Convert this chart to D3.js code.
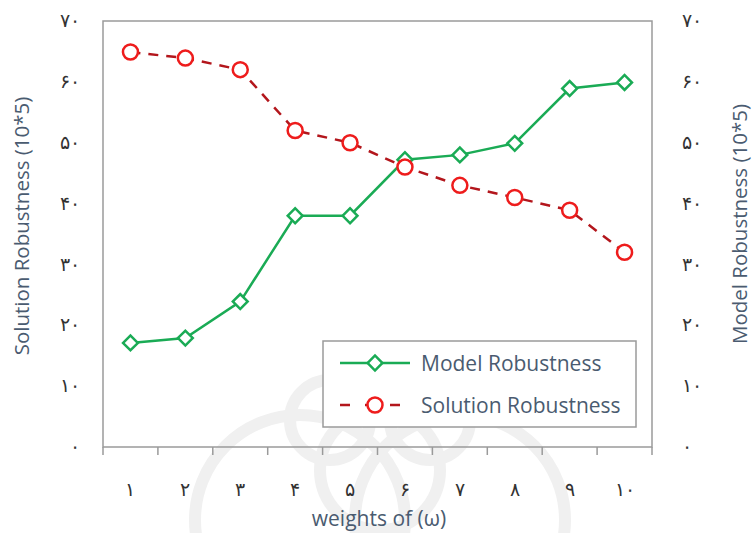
<!DOCTYPE html>
<html>
<head>
<meta charset="utf-8">
<script src="https://cdn.jsdelivr.net/npm/d3@7"></script>
<style>
  html, body { margin: 0; padding: 0; background: #ffffff; }
  svg { display: block; }
</style>
</head>
<body>
<svg id="chart" width="753" height="533"></svg>
<script>
// ---- data ----
const categories = [1, 2, 3, 4, 5, 6, 7, 8, 9, 10];
const categoryLabels = ["۱", "۲", "۳", "۴", "۵", "۶", "۷", "۸", "۹", "۱۰"];
const modelRobustness = [17.1, 17.9, 23.9, 38.0, 38.0, 47.2, 48.0, 49.9, 58.9, 59.9];
const solutionRobustness = [64.9, 63.9, 62.0, 52.0, 50.0, 46.0, 43.0, 41.0, 38.9, 32.0];
const yTicks = [0, 10, 20, 30, 40, 50, 60, 70];
const yTickLabels = ["۰", "۱۰", "۲۰", "۳۰", "۴۰", "۵۰", "۶۰", "۷۰"];
const seriesNames = ["Model Robustness", "Solution Robustness"];
const xTitle = "weights of (ω)";
const yLeftTitle = "Solution Robustness (10*5)";
const yRightTitle = "Model Robustness (10*5)";

// ---- layout ----
const svg = d3.select("#chart");
const L = 103, R = 652, T = 21, B = 447;
const green = "#1aab55", redMarker = "#ee1c1c", redLine = "#b3161c";
const titleColor = "#4a5b70";
const digitFont = "DejaVu Sans";
const textFont = "Open Sans";

// watermark (faint decorative background)
const wm = svg.append("g").attr("fill", "none").attr("stroke", "#f0f0f0").attr("stroke-width", 12);
[[300, 520, 105], [460, 520, 105], [380, 470, 60], [330, 420, 40], [430, 420, 40]].forEach(c => {
  wm.append("circle").attr("cx", c[0]).attr("cy", c[1]).attr("r", c[2]);
});

const x = d3.scaleBand().domain(categories).range([L, R]).paddingInner(0).paddingOuter(0);
const y = d3.scaleLinear().domain([0, 70]).range([B, T]);
const cx = d => x(d) + x.bandwidth() / 2;

// plot border
svg.append("rect").attr("x", L).attr("y", T).attr("width", R - L).attr("height", B - T)
  .attr("fill", "none").attr("stroke", "#9a9a9a").attr("stroke-width", 1.5);

// x-axis labels
const xAxis = d3.axisBottom(x).tickSize(0).tickFormat((d, i) => categoryLabels[i]);
const xg = svg.append("g").attr("transform", `translate(0,${B})`).call(xAxis);
xg.select(".domain").remove();
xg.selectAll("text").attr("dy", 0).attr("y", 49)
  .attr("font-family", digitFont).attr("font-weight", 300).attr("font-size", 19).attr("fill", "#333");
// tick marks at band boundaries
const boundaries = categories.map(c => x(c)).concat([R]);
svg.append("g").selectAll("line").data(boundaries).join("line")
  .attr("x1", d => d).attr("x2", d => d).attr("y1", B).attr("y2", B + 8)
  .attr("stroke", "#9a9a9a").attr("stroke-width", 1.5);

// y axes labels
const yAxisL = d3.axisLeft(y).tickValues(yTicks).tickSize(0).tickFormat((d, i) => yTickLabels[i]);
const ylg = svg.append("g").attr("transform", `translate(${L - 20},0)`).call(yAxisL);
ylg.select(".domain").remove();
ylg.selectAll("text").attr("dy", "0.3em").attr("font-family", digitFont).attr("font-weight", 300)
  .attr("font-size", 19).attr("fill", "#333");

const yAxisR = d3.axisRight(y).tickValues(yTicks).tickSize(0).tickFormat((d, i) => yTickLabels[i]);
const yrg = svg.append("g").attr("transform", `translate(${R + 27},0)`).call(yAxisR);
yrg.select(".domain").remove();
yrg.selectAll("text").attr("dy", "0.3em").attr("font-family", digitFont).attr("font-weight", 300)
  .attr("font-size", 19).attr("fill", "#333");

// axis titles
svg.append("text").attr("transform", `translate(29,226) rotate(-90)`)
  .attr("text-anchor", "middle").attr("font-family", textFont).attr("font-size", 20.5)
  .attr("fill", titleColor).text(yLeftTitle);
svg.append("text").attr("transform", `translate(747,224) rotate(-90)`)
  .attr("text-anchor", "middle").attr("font-family", textFont).attr("font-size", 20.5)
  .attr("fill", titleColor).text(yRightTitle);
svg.append("text").attr("x", 379).attr("y", 526)
  .attr("text-anchor", "middle").attr("font-family", textFont).attr("font-size", 21)
  .attr("fill", titleColor).text(xTitle);

// lines
const line = d3.line().x((d, i) => cx(categories[i])).y(d => y(d));
svg.append("path").datum(solutionRobustness).attr("d", line)
  .attr("fill", "none").attr("stroke", redLine).attr("stroke-width", 2.5)
  .attr("stroke-dasharray", "10,8");
svg.append("path").datum(modelRobustness).attr("d", line)
  .attr("fill", "none").attr("stroke", green).attr("stroke-width", 2.5);

// markers
const diamond = d3.symbol().type(d3.symbolSquare).size(110);
svg.append("g").selectAll("path").data(modelRobustness).join("path")
  .attr("d", diamond())
  .attr("transform", (d, i) => `translate(${cx(categories[i])},${y(d)}) rotate(45)`)
  .attr("fill", "#fff").attr("stroke", green).attr("stroke-width", 2.5);
svg.append("g").selectAll("circle").data(solutionRobustness).join("circle")
  .attr("cx", (d, i) => cx(categories[i])).attr("cy", d => y(d)).attr("r", 7.5)
  .attr("fill", "#fff").attr("stroke", redMarker).attr("stroke-width", 2.5);

// legend
const lg = svg.append("g");
lg.append("rect").attr("x", 323).attr("y", 341).attr("width", 313).attr("height", 86)
  .attr("fill", "#fff").attr("stroke", "#9a9a9a").attr("stroke-width", 1.5);
lg.append("line").attr("x1", 340).attr("x2", 410).attr("y1", 363).attr("y2", 363)
  .attr("stroke", green).attr("stroke-width", 2.5);
lg.append("path").attr("d", diamond()).attr("transform", "translate(375,363) rotate(45)")
  .attr("fill", "#fff").attr("stroke", green).attr("stroke-width", 2.5);
lg.append("text").attr("x", 421).attr("y", 371).attr("font-family", textFont).attr("font-size", 21)
  .attr("fill", titleColor).text(seriesNames[0]);
lg.append("line").attr("x1", 340).attr("x2", 410).attr("y1", 405).attr("y2", 405)
  .attr("stroke", redLine).attr("stroke-width", 2.5).attr("stroke-dasharray", "10,15");
lg.append("circle").attr("cx", 375).attr("cy", 405).attr("r", 7.5)
  .attr("fill", "#fff").attr("stroke", redMarker).attr("stroke-width", 2.5);
lg.append("text").attr("x", 421).attr("y", 413).attr("font-family", textFont).attr("font-size", 21)
  .attr("fill", titleColor).text(seriesNames[1]);
</script>
</body>
</html>
